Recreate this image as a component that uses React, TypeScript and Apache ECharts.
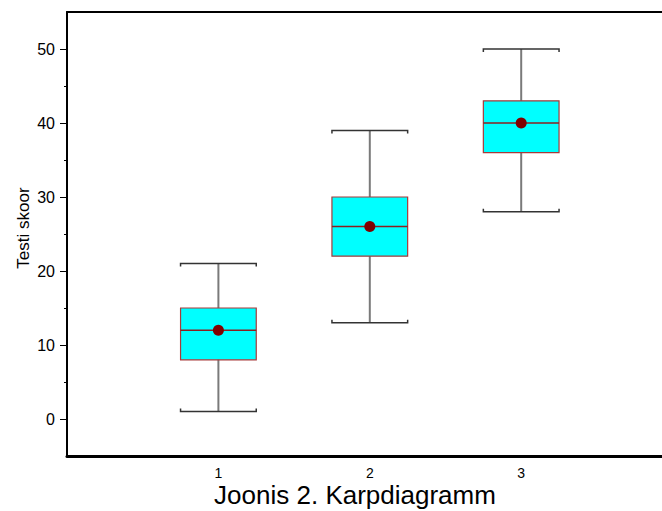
import React, { useEffect, useRef } from "react";
import * as echarts from "echarts";

// ---- data ----
const groups = [1, 2, 3];
const groupLabels = ["1", "2", "3"];
const whiskerLow = [1, 13, 28];
const quartile1 = [8, 22, 36];
const medians = [12, 26, 40];
const quartile3 = [15, 30, 43];
const whiskerHigh = [21, 39, 50];
const means = [12, 26, 40];

const yMajorTicks = [0, 10, 20, 30, 40, 50];
const yMinorTicks = [5, 15, 25, 35, 45];

const titleText = "Joonis 2. Karpdiagramm";
const yAxisTitle = "Testi skoor";

const FONT = "'Liberation Sans', Arial, sans-serif";

export default function App() {
  const ref = useRef<HTMLDivElement>(null);

  useEffect(() => {
    if (!ref.current) return;
    const chart = echarts.init(ref.current, null, { renderer: "svg" });

    const boxData = groups.map((g, i) => [
      g,
      whiskerLow[i],
      quartile1[i],
      medians[i],
      quartile3[i],
      whiskerHigh[i],
      means[i],
    ]);

    const renderItem = (params: any, api: any) => {
      const x = api.value(0);
      const pMin = api.coord([x, api.value(1)]);
      const pQ1 = api.coord([x, api.value(2)]);
      const pMed = api.coord([x, api.value(3)]);
      const pQ3 = api.coord([x, api.value(4)]);
      const pMax = api.coord([x, api.value(5)]);
      const pMean = api.coord([x, api.value(6)]);
      const halfW = api.size([0.5, 0])[0] / 2;
      const cx = pMed[0];
      const l = cx - halfW;
      const r = cx + halfW;
      const capColor = "#333333";
      const endTick = 3;
      return {
        type: "group",
        children: [
          {
            type: "line",
            shape: { x1: cx, y1: pMax[1], x2: cx, y2: pMin[1] },
            style: { stroke: "#7a7a7a", lineWidth: 2 },
          },
          {
            type: "polyline",
            shape: {
              points: [
                [l, pMax[1] + endTick],
                [l, pMax[1]],
                [r, pMax[1]],
                [r, pMax[1] + endTick],
              ],
            },
            style: { stroke: capColor, lineWidth: 1.5, fill: "none" },
          },
          {
            type: "polyline",
            shape: {
              points: [
                [l, pMin[1] - endTick],
                [l, pMin[1]],
                [r, pMin[1]],
                [r, pMin[1] - endTick],
              ],
            },
            style: { stroke: capColor, lineWidth: 1.5, fill: "none" },
          },
          {
            type: "rect",
            shape: { x: l, y: pQ3[1], width: r - l, height: pQ1[1] - pQ3[1] },
            style: { fill: "#00ffff", stroke: "#a83a3a", lineWidth: 1.2 },
          },
          {
            type: "line",
            shape: { x1: l, y1: pMed[1], x2: r, y2: pMed[1] },
            style: { stroke: "#8b2020", lineWidth: 1.5 },
          },
          {
            type: "circle",
            shape: { cx: pMean[0], cy: pMean[1], r: 5.5 },
            style: { fill: "#800000" },
          },
        ],
      };
    };

    chart.setOption({
      animation: false,
      title: {
        text: titleText,
        left: 350,
        top: 479,
        textAlign: "center",
        textStyle: {
          fontFamily: FONT,
          fontSize: 26,
          lineHeight: 22,
          fontWeight: "normal",
          color: "#000",
        },
      },
      graphic: [
        {
          type: "text",
          x: 23,
          y: 228,
          rotation: Math.PI / 2,
          style: {
            text: yAxisTitle,
            fontFamily: FONT,
            fontSize: 17,
            fill: "#000",
            align: "center",
            verticalAlign: "middle",
          },
        },
      ],
      grid: { left: 67, top: 12, right: 0, bottom: 55 },
      xAxis: [
        {
          type: "value",
          min: 0,
          max: 3.93,
          interval: 1,
          axisLine: { show: true, onZero: false, lineStyle: { color: "#000", width: 3 } },
          axisTick: { show: false },
          splitLine: { show: false },
          axisLabel: {
            customValues: groups,
            formatter: (v: number) => groupLabels[groups.indexOf(v)] ?? "",
            fontFamily: FONT,
            fontSize: 14,
            lineHeight: 12,
            color: "#000",
            margin: 11,
          },
        },
        {
          type: "value",
          position: "top",
          min: 0,
          max: 3.93,
          interval: 1,
          axisLine: { show: true, onZero: false, lineStyle: { color: "#000", width: 2 } },
          axisTick: { show: false },
          axisLabel: { show: false },
          splitLine: { show: false },
        },
      ],
      yAxis: [
        {
          type: "value",
          min: -5,
          max: 55,
          axisLine: { show: true, onZero: false, lineStyle: { color: "#000", width: 2 } },
          axisTick: {
            show: true,
            customValues: yMajorTicks,
            length: 7,
            lineStyle: { color: "#000", width: 1 },
          },
          axisLabel: {
            customValues: yMajorTicks,
            fontFamily: FONT,
            fontSize: 16,
            color: "#000",
            margin: 12,
          },
          splitLine: { show: false },
        },
        {
          type: "value",
          position: "left",
          min: -5,
          max: 55,
          axisLine: { show: false },
          axisTick: {
            show: true,
            customValues: yMinorTicks,
            length: 3,
            lineStyle: { color: "#000", width: 1 },
          },
          axisLabel: { show: false },
          splitLine: { show: false },
        },
      ],
      series: [
        {
          type: "custom",
          renderItem,
          data: boxData,
          encode: { x: 0, y: [1, 5] },
          clip: false,
          z: 10,
        },
      ],
    });

    return () => chart.dispose();
  }, []);

  return (
    <div
      ref={ref}
      style={{ position: "fixed", left: 0, top: 0, width: 662, height: 511, background: "#fff" }}
    />
  );
}
